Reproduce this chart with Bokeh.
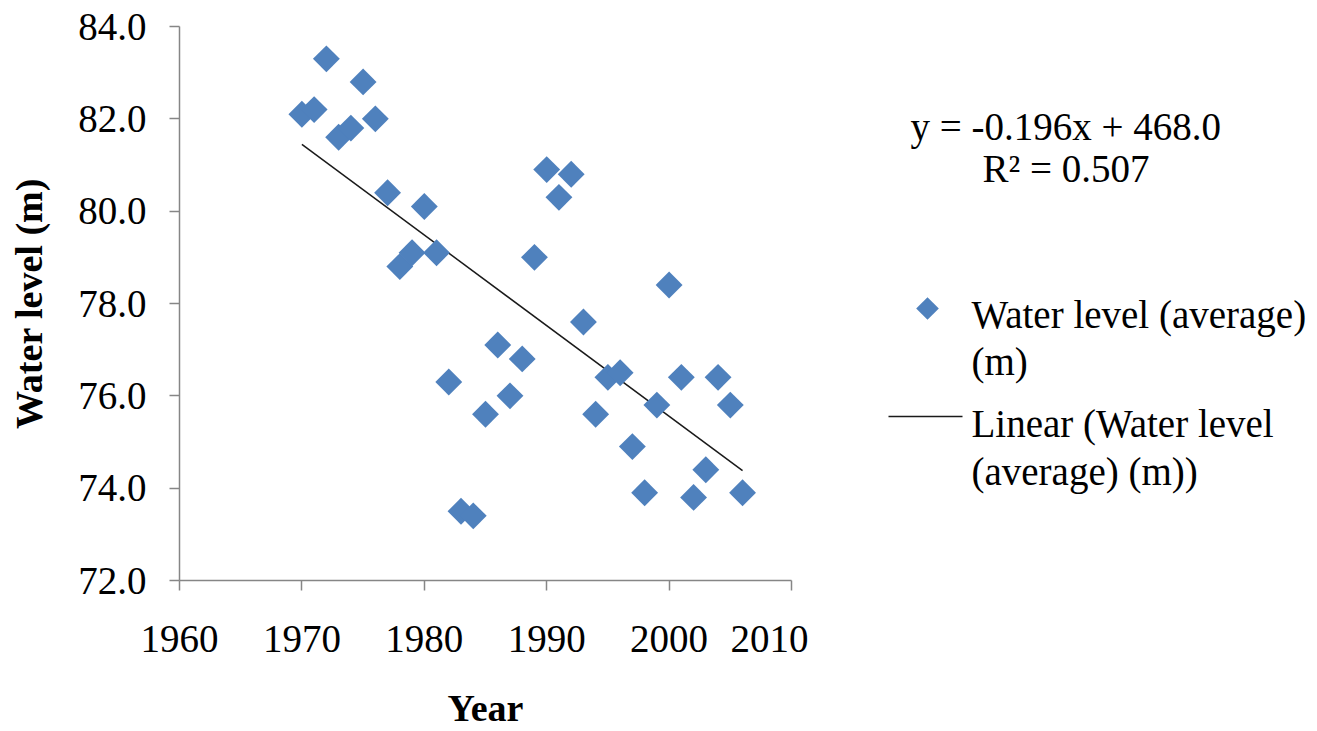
import numpy as np
from bokeh.plotting import figure
from bokeh.models import Range1d, FixedTicker, NumeralTickFormatter
from bokeh.layouts import row
from bokeh.core.properties import value
from bokeh.embed import file_html
from bokeh.resources import INLINE

years = [1970, 1971, 1972, 1973, 1974, 1975, 1976, 1977, 1978, 1979,
         1980, 1981, 1982, 1983, 1984, 1985, 1986, 1987, 1988, 1989,
         1990, 1991, 1992, 1993, 1994, 1995, 1996, 1997, 1998, 1999,
         2000, 2001, 2002, 2003, 2004, 2005, 2006]
water_level = [82.1, 82.2, 83.3, 81.6, 81.8, 82.8, 82.0, 80.4, 78.8, 79.1,
               80.1, 79.1, 76.3, 73.5, 73.4, 75.6, 77.1, 76.0, 76.8, 79.0,
               80.9, 80.3, 80.8, 77.6, 75.6, 76.4, 76.5, 74.9, 73.9, 75.8,
               78.4, 76.4, 73.8, 74.4, 76.4, 75.8, 73.9]
x_ticks = [1960, 1970, 1980, 1990, 2000, 2010]
y_ticks = [72, 74, 76, 78, 80, 82, 84]
equation_text = "y = -0.196x + 468.0"
r2_text = "R\u00b2 = 0.507"
legend_labels = ["Water level (average)", "(m)", "Linear (Water level", "(average) (m))"]
x_title = "Year"
y_title = "Water level (m)"

FONT = "Liberation Serif"
BLUE = "#4F81BD"
AXIS_GRAY = "#868686"

# linear trend (least squares, as in the spreadsheet trendline)
slope, intercept = np.polyfit(years, water_level, 1)
trend_x = [years[0], years[-1]]
trend_y = [slope * x + intercept for x in trend_x]

TOP, BOTTOM = 26, 151
p = figure(width=808, height=731, output_backend="svg", toolbar_location=None,
           x_range=Range1d(1960, 2010), y_range=Range1d(72, 84),
           min_border_left=179, min_border_right=17,
           min_border_top=TOP, min_border_bottom=BOTTOM)
p.outline_line_color = None
p.grid.visible = False

p.line(trend_x, trend_y, line_color="#1a1a1a", line_width=1.5)
p.scatter(years, water_level, marker="square", angle=np.pi / 4, size=19,
          fill_color=BLUE, line_color=BLUE, line_width=0)

for ax in (p.xaxis[0], p.yaxis[0]):
    ax.axis_line_color = AXIS_GRAY
    ax.axis_line_width = 1.5
    ax.major_tick_line_color = AXIS_GRAY
    ax.major_tick_line_width = 1.5
    ax.major_tick_out = 10
    ax.major_tick_in = 0
    ax.minor_tick_line_color = None
    ax.major_label_text_font = FONT
    ax.major_label_text_font_size = "39px"
    ax.major_label_text_color = "black"
    ax.axis_label_text_font = FONT
    ax.axis_label_text_font_size = "38px"
    ax.axis_label_text_font_style = "bold"
    ax.axis_label_text_color = "black"

p.xaxis.ticker = FixedTicker(ticks=x_ticks)
p.yaxis.ticker = FixedTicker(ticks=y_ticks)
p.xaxis.formatter = NumeralTickFormatter(format="0")
p.yaxis.formatter = NumeralTickFormatter(format="0.0")
p.xaxis.axis_label = x_title
p.yaxis.axis_label = y_title
p.xaxis.major_label_standoff = 35
p.yaxis.major_label_standoff = 23
p.xaxis.axis_label_standoff = 32
p.yaxis.axis_label_standoff = 25

# right-hand panel with equation and legend (its frame is aligned with the plot's frame)
q = figure(width=509, height=731, output_backend="svg", toolbar_location=None,
           x_range=Range1d(808, 1317), y_range=Range1d(731 - BOTTOM, TOP),
           x_axis_location=None, y_axis_location=None,
           min_border_left=0, min_border_right=0,
           min_border_top=TOP, min_border_bottom=BOTTOM)
q.outline_line_color = None
q.grid.visible = False

q.text(x=[910, 982], y=[126, 168], text=[equation_text, r2_text],
       text_font=value(FONT), text_font_size="39px", text_color="black",
       text_baseline="alphabetic", text_align="left")
q.scatter(x=[927], y=[308], marker="square", angle=np.pi / 4, size=16,
          fill_color=BLUE, line_color=BLUE, line_width=0)
q.line(x=[888, 962], y=[416, 416], line_color="#1a1a1a", line_width=1.5)
q.text(x=[971, 971, 971, 971], y=[314, 361, 423, 471], text=legend_labels,
       text_font=value(FONT), text_font_size="39px", text_color="black",
       text_baseline="alphabetic", text_align="left")

layout = row(p, q, spacing=0)
open("out.html", "w").write(file_html(layout, INLINE))
